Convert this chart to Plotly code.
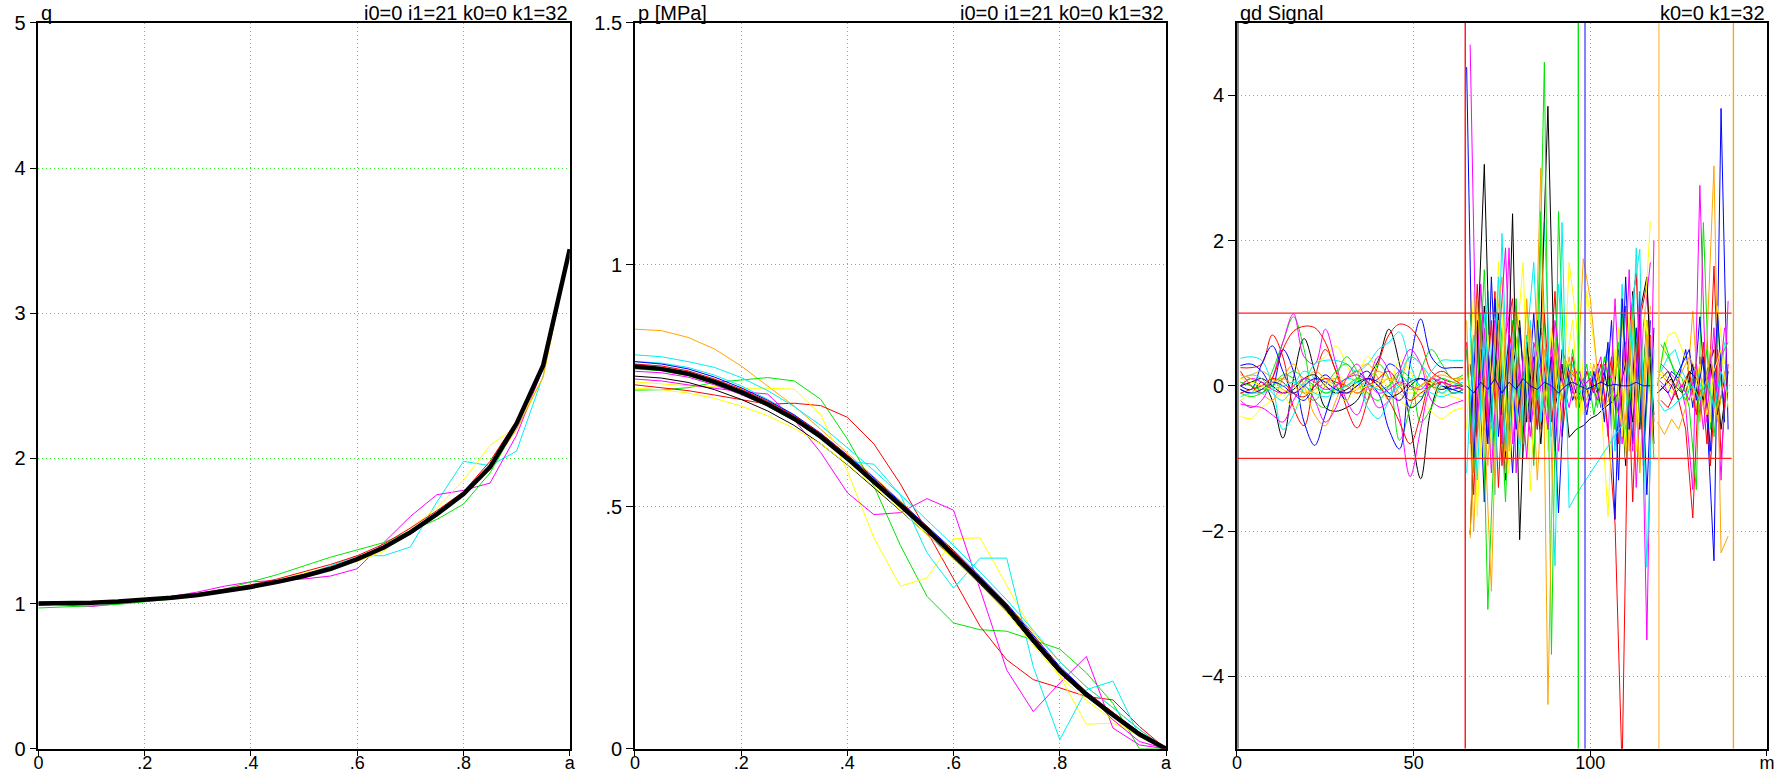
import plotly.graph_objects as go

# ---------------- data ----------------
x_frac = [0, .05, .1, .15, .2, .25, .3, .35, .4, .45, .5, .55, .6, .65, .7, .75, .8, .85, .9, .95, 1.0]
frac_ticks = [0, .2, .4, .6, .8, 1.0]
frac_labels = ["0", ".2", ".4", ".6", ".8", "a"]

q_mean = [1.000, 1.002, 1.006, 1.014, 1.025, 1.040, 1.060, 1.085, 1.115, 1.150, 1.190, 1.240, 1.306, 1.386, 1.490, 1.616, 1.754, 1.940, 2.240, 2.640, 3.440]
q_black = [0.99, 0.995, 1.0, 1.01, 1.02, 1.035, 1.055, 1.08, 1.11, 1.145, 1.185, 1.235, 1.30, 1.38, 1.48, 1.61, 1.75, 1.94, 2.24, 2.64, 3.44]
q_red = [1.01, 1.01, 1.01, 1.02, 1.03, 1.05, 1.07, 1.10, 1.13, 1.17, 1.22, 1.27, 1.33, 1.41, 1.52, 1.64, 1.77, 1.98, 2.26, 2.65, 3.44]
q_green = [0.97, 0.975, 0.985, 0.995, 1.01, 1.03, 1.06, 1.10, 1.15, 1.20, 1.26, 1.32, 1.37, 1.42, 1.50, 1.58, 1.685, 1.90, 2.22, 2.64, 3.44]
q_blue = [1.00, 1.00, 1.01, 1.015, 1.025, 1.04, 1.06, 1.085, 1.115, 1.15, 1.19, 1.24, 1.30, 1.38, 1.48, 1.61, 1.75, 1.94, 2.24, 2.64, 3.44]
q_yellow = [1.00, 1.00, 1.005, 1.01, 1.02, 1.03, 1.05, 1.08, 1.11, 1.16, 1.21, 1.25, 1.29, 1.36, 1.52, 1.66, 1.85, 2.09, 2.22, 2.56, 3.44]
q_magenta = [1.00, 0.99, 0.98, 1.00, 1.02, 1.05, 1.08, 1.12, 1.15, 1.16, 1.17, 1.19, 1.24, 1.42, 1.60, 1.75, 1.78, 1.83, 2.16, 2.62, 3.44]
q_cyan = [1.00, 1.005, 1.01, 1.015, 1.03, 1.04, 1.06, 1.09, 1.12, 1.16, 1.20, 1.26, 1.33, 1.33, 1.39, 1.70, 1.98, 1.95, 2.05, 2.57, 3.44]
q_orange = [1.01, 1.01, 1.015, 1.02, 1.03, 1.045, 1.065, 1.09, 1.12, 1.155, 1.20, 1.25, 1.31, 1.39, 1.50, 1.62, 1.76, 1.93, 2.20, 2.56, 3.44]

p_mean = [0.790, 0.785, 0.775, 0.758, 0.737, 0.712, 0.682, 0.645, 0.600, 0.553, 0.503, 0.453, 0.402, 0.348, 0.292, 0.225, 0.162, 0.112, 0.070, 0.030, 0.0]
p_orange = [0.867, 0.864, 0.850, 0.826, 0.791, 0.750, 0.708, 0.660, 0.612, 0.562, 0.512, 0.460, 0.408, 0.355, 0.300, 0.240, 0.180, 0.128, 0.085, 0.040, 0.0]
p_green = [0.741, 0.742, 0.746, 0.757, 0.762, 0.767, 0.760, 0.722, 0.640, 0.543, 0.420, 0.315, 0.260, 0.246, 0.243, 0.225, 0.206, 0.157, 0.094, 0.0, 0.0]
p_red = [0.752, 0.746, 0.740, 0.731, 0.722, 0.712, 0.714, 0.709, 0.685, 0.630, 0.547, 0.450, 0.350, 0.253, 0.184, 0.143, 0.126, 0.108, 0.101, 0.046, 0.0]
p_yellow = [0.758, 0.754, 0.750, 0.748, 0.745, 0.745, 0.743, 0.690, 0.574, 0.436, 0.336, 0.353, 0.434, 0.436, 0.339, 0.240, 0.150, 0.051, 0.053, 0.030, 0.0]
p_magenta = [0.764, 0.760, 0.752, 0.745, 0.738, 0.733, 0.680, 0.612, 0.529, 0.484, 0.488, 0.517, 0.493, 0.329, 0.163, 0.077, 0.136, 0.191, 0.043, 0.008, 0.0]
p_cyan = [0.800, 0.797, 0.788, 0.772, 0.750, 0.722, 0.690, 0.648, 0.594, 0.588, 0.524, 0.405, 0.332, 0.394, 0.394, 0.170, 0.019, 0.122, 0.140, 0.026, 0.0]
p_cyan2 = [0.814, 0.810, 0.800, 0.788, 0.767, 0.740, 0.707, 0.668, 0.622, 0.575, 0.525, 0.473, 0.420, 0.365, 0.308, 0.245, 0.180, 0.128, 0.085, 0.040, 0.0]
p_blue = [0.80, 0.795, 0.785, 0.768, 0.746, 0.72, 0.69, 0.652, 0.607, 0.56, 0.51, 0.46, 0.41, 0.356, 0.30, 0.235, 0.17, 0.118, 0.075, 0.034, 0.0]
p_black = [0.770, 0.766, 0.757, 0.742, 0.722, 0.698, 0.668, 0.630, 0.587, 0.540, 0.492, 0.443, 0.393, 0.340, 0.284, 0.218, 0.156, 0.108, 0.068, 0.030, 0.0]
p_yellow2 = [0.745, 0.742, 0.735, 0.724, 0.708, 0.688, 0.662, 0.630, 0.588, 0.542, 0.493, 0.442, 0.392, 0.338, 0.282, 0.215, 0.150, 0.100, 0.060, 0.025, 0.0]
p_magenta2 = [0.780, 0.777, 0.768, 0.752, 0.732, 0.708, 0.678, 0.642, 0.598, 0.552, 0.503, 0.455, 0.405, 0.352, 0.298, 0.232, 0.168, 0.115, 0.060, 0.015, 0.0]
p_red2 = [0.795, 0.791, 0.781, 0.764, 0.743, 0.718, 0.688, 0.651, 0.606, 0.558, 0.508, 0.458, 0.407, 0.353, 0.297, 0.230, 0.167, 0.117, 0.075, 0.034, 0.0]
p_green2 = [0.785, 0.781, 0.771, 0.754, 0.733, 0.708, 0.678, 0.641, 0.596, 0.549, 0.499, 0.449, 0.398, 0.344, 0.288, 0.222, 0.158, 0.108, 0.066, 0.026, 0.0]

# gd Signal panel
xA = [1, 4, 7, 10, 13, 16, 19, 22, 25, 28, 31, 34, 37, 40, 43, 46, 49, 52, 55, 58, 61, 64]
sigA = [
    ("black",   [-0.05, -0.1, 0.05, -0.2, -0.72, 0.1, 0.65, 0.2, -0.3, -0.35, -0.3, -0.2, 0.1, 0.35, 0.78, 0.3, -0.5, -1.28, -0.3, 0.05, -0.1, -0.05]),
    ("red",     [0.25, 0.25, 0.3, 0.7, 0.4, -0.3, -0.55, 0.1, 0.5, 0.2, -0.3, -0.58, -0.2, 0.3, 0.7, 0.85, 0.8, 0.6, 0.2, 0.1, 0.05, 0.1]),
    ("green",   [0.0, 0.1, -0.1, 0.2, 0.6, 0.95, 0.5, -0.2, -0.3, 0.1, 0.4, 0.2, -0.2, 0.3, 0.1, -0.75, -0.3, 0.2, 0.5, 0.3, 0.1, 0.15]),
    ("blue",    [0.28, 0.3, 0.2, 0.0, 0.5, 0.2, -0.5, -0.82, -0.4, 0.0, 0.1, 0.2, 0.05, -0.1, -0.6, -0.87, 0.3, 0.92, 0.4, 0.25, 0.25, 0.25]),
    ("yellow",  [-0.42, -0.45, -0.3, -0.2, -0.1, 0.0, 0.1, 0.3, 0.4, 0.55, 0.3, 0.0, -0.1, 0.0, -0.1, -0.2, -0.3, -0.2, -0.35, -0.45, -0.35, -0.3]),
    ("magenta", [-0.2, -0.3, -0.2, 0.1, 0.6, 0.99, 0.4, 0.3, 0.78, 0.3, -0.2, -0.4, 0.0, 0.4, 0.2, -0.4, -1.25, -0.6, 0.0, 0.1, -0.1, -0.05]),
    ("cyan",    [0.38, 0.4, 0.35, 0.0, -0.6, -0.4, 0.0, 0.3, 0.35, 0.35, 0.3, 0.2, 0.3, 0.5, 0.6, 0.74, 0.3, 0.0, 0.2, 0.35, 0.35, 0.35]),
    ("orange",  [0.05, 0.0, -0.1, -0.2, 0.1, 0.3, 0.0, -0.4, -0.55, -0.2, 0.1, 0.2, 0.3, 0.1, -0.2, 0.0, 0.4, 0.3, 0.0, -0.1, 0.05, 0.1]),
    ("black",   [0.0, 0.05, 0.1, 0.0, -0.1, -0.05, 0.1, 0.15, 0.0, -0.1, -0.05, 0.05, 0.1, 0.0, -0.15, -0.1, 0.05, 0.1, 0.0, -0.05, 0.0, 0.0]),
    ("red",     [0.2, 0.0, -0.1, 0.1, 0.5, 0.75, 0.82, 0.8, 0.6, 0.2, -0.1, 0.0, 0.1, 0.0, -0.2, -0.5, -0.8, -0.4, 0.1, 0.2, 0.1, 0.0]),
    ("green",   [-0.1, -0.15, -0.1, 0.0, 0.15, 0.1, -0.1, -0.2, 0.0, 0.2, 0.3, 0.1, -0.1, -0.2, 0.0, 0.2, 0.1, -0.5, -0.3, 0.0, -0.1, -0.05]),
    ("blue",    [0.0, -0.05, 0.3, 0.55, 0.2, -0.1, -0.2, 0.0, 0.15, 0.0, -0.2, 0.1, 0.2, 0.0, 0.3, 0.2, -0.3, -0.2, 0.1, 0.0, -0.05, 0.0]),
    ("yellow",  [-0.2, -0.1, 0.0, 0.1, -0.1, -0.3, -0.15, 0.05, 0.1, -0.1, -0.2, 0.1, 0.4, 0.2, 0.0, 0.35, 0.2, -0.1, 0.0, -0.1, -0.15, -0.2]),
    ("magenta", [-0.25, -0.28, -0.3, -0.4, -0.5, -0.2, 0.0, -0.2, -0.5, -0.3, 0.1, 0.3, 0.0, -0.3, -0.2, 0.2, 0.5, 0.3, -0.2, -0.3, -0.25, -0.2]),
    ("cyan",    [0.1, 0.15, 0.1, -0.1, -0.2, 0.0, 0.2, 0.1, -0.1, 0.0, 0.1, 0.05, -0.3, -0.45, -0.2, 0.1, 0.4, 0.3, 0.1, -0.1, 0.0, 0.05]),
    ("orange",  [0.1, 0.15, 0.2, 0.1, -0.05, -0.1, 0.05, 0.2, 0.1, 0.0, -0.1, -0.05, 0.1, 0.2, 0.1, -0.1, -0.2, 0.0, 0.1, 0.05, 0.0, 0.0]),
    ("red",     [-0.1, -0.05, 0.0, 0.1, 0.05, -0.1, -0.15, 0.0, 0.1, 0.05, 0.0, -0.1, 0.0, 0.1, 0.2, 0.0, -0.2, -0.1, 0.0, 0.05, 0.0, -0.05]),
    ("green",   [0.05, 0.0, -0.05, 0.0, 0.1, 0.2, 0.1, 0.0, -0.1, -0.05, 0.0, 0.1, 0.05, -0.05, 0.0, 0.15, 0.0, -0.15, 0.0, 0.1, 0.05, 0.0]),
    ("blue",    [-0.05, -0.1, -0.05, 0.05, 0.0, -0.1, 0.0, 0.1, 0.05, -0.05, -0.1, 0.0, 0.1, 0.05, -0.1, -0.2, 0.0, 0.1, 0.05, 0.0, -0.05, -0.1]),
    ("yellow",  [0.1, 0.05, 0.0, -0.05, 0.0, 0.05, -0.05, -0.1, 0.0, 0.15, 0.05, -0.05, 0.0, 0.05, 0.1, 0.0, -0.1, 0.0, 0.05, 0.0, 0.05, 0.1]),
    ("magenta", [0.0, 0.1, 0.05, -0.05, -0.1, 0.0, 0.1, 0.05, -0.05, 0.0, 0.1, 0.15, 0.05, -0.1, -0.05, 0.05, 0.0, -0.05, 0.1, 0.05, 0.0, -0.05]),
    ("cyan",    [-0.15, -0.1, -0.1, -0.05, 0.0, 0.05, 0.0, -0.1, -0.15, -0.1, 0.0, 0.05, 0.0, -0.05, -0.1, 0.0, 0.1, 0.0, -0.1, -0.15, -0.1, -0.1]),
    ("orange",  [0.15, 0.1, 0.0, 0.05, 0.1, 0.0, -0.1, -0.05, 0.05, 0.1, 0.0, -0.1, -0.05, 0.0, 0.1, 0.05, -0.05, 0.0, 0.1, 0.15, 0.1, 0.1]),
]

xB1 = [65, 67, 69, 71, 73, 75, 77, 79, 81, 83, 85, 87, 89, 91, 93, 95, 97, 99, 101, 103, 105, 107, 109, 111, 113, 115, 117]
xB2 = [66, 68, 70, 72, 74, 76, 78, 80, 82, 84, 86, 88, 90, 92, 94, 96, 98, 100, 102, 104, 106, 108, 110, 112, 114, 116, 118]
sigB = [
    ("black",   2, [0.3, -0.7, 1.1, -0.4, 0.6, -1.3, 0.2, 0.9, -0.5, 0.4, -0.8, 0.6, -0.3, 0.2, 0.1, -0.2, 0.0, 0.1, -0.1, 0.2, -0.4, 0.5, -1.1, 1.3, -0.6, 0.9, -0.4]),
    ("red",     2, [-0.8, 1.4, -0.6, 0.9, -1.4, 0.7, 1.2, -0.5, 0.4, -1.0, 0.8, -0.3, 1.3, -0.7, 0.2, 0.1, -0.1, 0.0, 0.2, -0.3, 0.4, -0.8, 1.1, -1.6, 0.9, 1.4, -0.5]),
    ("green",   2, [1.0, -0.5, 1.6, -0.9, 0.4, -1.6, 0.9, -0.3, 0.7, -1.1, 2.4, -0.6, 0.5, -0.2, 0.3, 0.1, -0.2, 0.2, -0.3, 0.4, -0.2, 0.6, -0.9, 1.1, -0.5, 0.8, -1.0]),
    ("blue",    2, [-0.5, 0.9, -1.6, 1.5, -0.7, 0.4, -1.2, 0.8, -0.4, 1.0, -0.6, 0.3, -0.9, 0.5, 0.2, -0.1, 0.1, -0.2, 0.3, -0.5, 0.9, -1.3, 1.5, -0.8, 1.2, -1.5, 0.8]),
    ("yellow",  2, [1.5, -1.8, 0.6, -0.9, 1.7, -0.6, 0.3, -1.0, 1.1, -0.4, 0.7, -0.9, 0.4, -0.6, 1.7, 0.9, -0.4, 0.3, -0.2, 0.1, -0.4, 0.8, -1.0, 0.6, -1.2, 0.9, -0.6]),
    ("magenta", 1, [0.5, -1.0, 1.4, -0.5, 0.9, -0.8, 1.9, -1.2, 0.4, -0.7, 0.3, -0.4, 0.6, -0.9, 0.2, -0.1, 0.2, -0.3, 0.1, 0.4, -0.7, 1.2, -0.8, 1.6, -1.4, 0.8, 1.7]),
    ("cyan",    1, [-1.2, 0.7, -0.4, 1.3, -1.5, 2.1, -0.8, 0.5, -1.0, 0.9, -0.6, 2.25, -0.4, 1.4, -0.2, 0.3, -0.1, 0.2, 0.1, -0.2, 0.5, -0.9, 1.4, -0.6, 1.9, -1.1, 0.5]),
    ("orange",  1, [0.9, -2.0, 0.4, -1.1, 0.7, 1.5, -0.9, 0.3, -0.5, 0.8, -1.3, 0.5, -0.7, 0.3, -0.1, 0.2, 0.0, -0.2, 0.3, -0.1, 0.4, -0.6, 1.0, -0.9, 0.6, -0.4, 1.1]),
    ("black",   2, [-2.05, 0.5, 3.05, -0.5, 1.0, -1.0, 2.37, -2.12, 0.6, -0.3, 0.8, 3.85, -0.2, 0.3, -0.71, -0.6, -0.55, -0.45, -0.4, -0.3, -0.23, -0.1, 0.3, -0.5, 1.0, 1.5, -0.8]),
    ("red",     1, [0.6, -1.5, 0.9, -0.7, 1.3, -1.1, 0.5, 1.1, -0.9, 0.4, -0.6, 1.0, -0.5, 0.3, -0.2, 0.4, -0.3, 0.2, -0.1, 0.3, -0.6, -1.9, -5.3, 0.8, 1.55, -1.0, 0.7]),
    ("green",   1, [0.5, -1.2, 1.0, -3.08, -0.5, 0.8, -0.6, 1.2, -0.8, 0.4, -0.2, 4.46, -3.7, 2.4, -0.3, 0.5, -0.2, 0.3, -0.4, 0.2, 0.5, -0.6, 1.0, -0.3, 0.6, -0.8, 0.4]),
    ("blue",    1, [4.39, -1.0, 0.5, -0.8, 1.2, -0.4, 0.7, -0.6, 0.2, -0.5, 0.9, -0.3, 0.4, -1.75, 0.3, -0.2, 0.1, -0.4, 0.2, -0.3, 0.6, -1.84, 1.2, -0.6, 0.8, -1.0, 0.9]),
    ("yellow",  1, [-0.6, 1.3, -1.0, 0.7, -0.4, 1.0, -1.2, 0.5, 1.7, -1.45, 0.6, -0.5, 0.8, -0.3, 0.2, 0.9, -0.5, 1.3, 0.6, -0.2, -1.8, 0.5, -0.7, 1.0, -0.9, 0.6, 2.27]),
    ("magenta", 2, [4.7, -0.5, 0.8, -1.2, 0.5, 1.9, -0.8, 0.3, -1.0, 0.6, 0.2, -0.6, 0.9, 0.1, -0.3, 0.2, 0.0, 0.1, -0.2, 0.3, 0.1, -0.4, 0.6, -0.9, 1.3, -3.5, 2.0]),
    ("cyan",    2, [0.8, -1.3, 1.0, -0.6, 1.5, -0.9, 0.4, -1.0, 0.6, 1.7, -0.5, 0.6, -2.48, 2.25, -1.68, -1.5, -1.35, -1.2, -1.05, -0.9, -0.75, -0.6, -0.46, 1.2, 1.88, -2.5, 0.5]),
    ("orange",  2, [-2.1, 1.2, -0.5, -2.83, 0.9, -1.2, 0.5, -0.8, 1.2, -0.4, 3.0, -4.39, 0.6, -0.2, 0.4, -0.3, 1.75, 1.2, 0.2, -0.3, -0.1, 0.4, -0.6, 0.9, -1.2, 0.7, -0.9]),
    ("blue",    1, [0.0, -0.1, 0.05, -0.05, 0.1, -0.1, 0.05, -0.05, 0.1, 0.0, -0.05, 0.05, 0.0, -0.1, 0.0, 0.05, 0.0, -0.05, 0.0, 0.05, 0.0, 0.02, 0.0, 0.0, 0.05, 0.0, 0.0]),
]

xC1 = [119, 121, 123, 125, 127, 129, 131, 133, 135, 137, 139]
xC2 = [120, 122, 124, 126, 128, 130, 132, 134, 136, 138]
sigC = [
    ("black",   1, [-0.1, 0.0, 0.1, -0.2, -0.1, 0.3, -0.4, 0.2, 0.5, -0.6, 0.2]),
    ("red",     1, [0.2, 0.1, 0.0, -0.2, -0.6, -1.82, 0.4, -0.8, 1.65, -1.0, 0.3]),
    ("green",   2, [0.57, 0.4, 0.2, 0.1, -0.3, -1.43, 2.25, -0.6, 0.9, -0.5]),
    ("blue",    1, [-0.1, 0.0, 0.2, 0.1, 0.5, -0.3, 0.95, -0.4, -2.41, 3.82, -0.6]),
    ("yellow",  2, [0.3, 0.7, 0.74, 0.5, 0.2, -0.3, 0.6, -0.5, 1.1, 0.3]),
    ("magenta", 1, [0.1, 0.0, -0.2, 0.1, -0.3, -1.43, 2.76, -0.5, 0.8, -1.3, 1.17]),
    ("cyan",    2, [0.2, 0.4, 0.5, 0.2, 0.0, 0.3, -0.2, 0.4, -0.3, 0.6]),
    ("orange",  1, [-0.5, -0.67, -0.46, -0.6, -0.3, 1.03, -0.5, 0.6, 3.03, -2.3, -2.07]),
    ("black",   2, [0.1, 0.2, 0.0, -0.1, 0.2, 0.1, -0.2, 0.3, -0.4, 0.1]),
    ("red",     2, [-0.2, -0.3, -0.1, 0.0, 0.2, -0.4, 0.6, -1.1, 0.5, -0.3]),
    ("green",   1, [0.0, 0.6, 0.3, 0.0, -0.2, 0.1, -0.3, 0.5, -0.7, 0.4, 0.6]),
    ("blue",    2, [0.0, -0.1, 0.1, 0.3, 0.5, -0.2, 0.4, -0.9, 1.0, -0.5]),
    ("yellow",  1, [0.2, 0.1, -0.1, 0.0, 0.1, -0.2, 0.3, -0.4, 0.2, 0.5, -0.3]),
    ("magenta", 2, [0.3, 0.2, 0.1, 0.0, -0.2, 0.3, -0.6, 0.4, -0.2, 0.8]),
    ("cyan",    1, [-0.2, -0.35, -0.3, -0.2, -0.1, 0.0, -0.2, 0.1, -0.3, 0.2, -0.1]),
    ("orange",  2, [0.2, 0.1, 0.0, 0.2, 0.4, 0.2, -0.3, 0.5, -0.5, 0.2]),
]

limit_levels = [1, -1]
limit_x = [0, 140]
marker_x = [64.6, 96.6, 98.5, 119.4, 140.5]
marker_colors = ["#ff0000", "#00e000", "#4040ff", "#ffc060", "#ffa500"]
sig_ticks = [0, 50, 100, 150]
sig_labels = ["0", "50", "100", "m"]

COL = {"black": "#000000", "red": "#ff0000", "green": "#00e600", "blue": "#0000ff",
       "yellow": "#ffff00", "magenta": "#ff00ff", "cyan": "#00eeee", "orange": "#ffa500"}

FONT = "Liberation Sans, Arial, sans-serif"
FS = 20
FSX = 18
GRID = "#33ee33"

fig = go.Figure()

def add(x, y, color, ax, width=1, shape="linear"):
    fig.add_trace(go.Scatter(x=x, y=y, mode="lines", xaxis="x" + ax, yaxis="y" + ax,
                             line=dict(color=color, width=width, shape=shape),
                             hoverinfo="skip", showlegend=False))

# panel 1
for col, ser in [("cyan", q_cyan), ("magenta", q_magenta), ("yellow", q_yellow), ("green", q_green),
                 ("red", q_red), ("blue", q_blue), ("orange", q_orange), ("black", q_black)]:
    add(x_frac, ser, COL[col], "")
add(x_frac, q_mean, "#000000", "", width=4.5)

# panel 2
for col, ser in [("orange", p_orange), ("green", p_green), ("red", p_red), ("yellow", p_yellow),
                 ("magenta", p_magenta), ("cyan", p_cyan), ("cyan", p_cyan2), ("blue", p_blue),
                 ("black", p_black), ("yellow", p_yellow2), ("magenta", p_magenta2),
                 ("red", p_red2), ("green", p_green2)]:
    add(x_frac, ser, COL[col], "2")
add(x_frac, p_mean, "#000000", "2", width=4.5)

# panel 3
add([0, 0], [-5, 5], "#888888", "3", width=4)
for col, ser in sigA:
    add(xA, ser, COL[col], "3", shape="spline")
for col, g, ser in sigB:
    add(xB1 if g == 1 else xB2, ser, COL[col], "3")
for col, g, ser in sigC:
    add(xC1 if g == 1 else xC2, ser, COL[col], "3")
for lv in limit_levels:
    add(limit_x, [lv, lv], "#ff2020", "3", width=1.3)
for mx, mc in zip(marker_x, marker_colors):
    add([mx, mx], [-5, 5], mc, "3", width=1.3)

dom_y = [0.0375, 0.9707]
base = dict(showline=True, linecolor="#000000", linewidth=1.5, mirror=True,
            ticks="outside", tickcolor="#000000", tickwidth=1.2,
            showgrid=True, gridcolor=GRID, griddash="1px,3px", gridwidth=1.2,
            zeroline=False, automargin=False)
xaxis_common = dict(base, ticklen=5, ticklabelstandoff=-8,
                    tickfont=dict(family=FONT, size=FSX, color="#000000"))
yaxis_common = dict(base, ticklen=7, tickfont=dict(family=FONT, size=FS, color="#000000"))

fig.update_layout(
    width=1787, height=778, margin=dict(l=0, r=0, t=0, b=0, autoexpand=False),
    paper_bgcolor="white", plot_bgcolor="white", showlegend=False,
    xaxis=dict(domain=[0.0215, 0.3188], range=[0, 1], tickvals=frac_ticks, ticktext=frac_labels, anchor="y", **xaxis_common),
    yaxis=dict(domain=dom_y, range=[0, 5], tickvals=[0, 1, 2, 3, 4, 5], anchor="x", **yaxis_common),
    xaxis2=dict(domain=[0.3553, 0.6525], range=[0, 1], tickvals=frac_ticks, ticktext=frac_labels, anchor="y2", **xaxis_common),
    yaxis2=dict(domain=dom_y, range=[0, 1.5], tickvals=[0, 0.5, 1, 1.5], ticktext=["0", ".5", "1", "1.5"], anchor="x2", **yaxis_common),
    xaxis3=dict(domain=[0.6922, 0.9888], range=[0, 150], tickvals=sig_ticks, ticktext=sig_labels, anchor="y3", **xaxis_common),
    yaxis3=dict(domain=dom_y, range=[-5, 5], tickvals=[-4, -2, 0, 2, 4], anchor="x3", **yaxis_common),
)

titles = [("x domain", "y domain", "q", "i0=0 i1=21 k0=0 k1=32"),
          ("x2 domain", "y2 domain", "p [MPa]", "i0=0 i1=21 k0=0 k1=32"),
          ("x3 domain", "y3 domain", "gd Signal", "k0=0 k1=32")]
for xr, yr, left, right in titles:
    fig.add_annotation(xref=xr, yref=yr, x=0, y=1, xanchor="left", yanchor="bottom", text=left,
                       showarrow=False, xshift=1, yshift=-3, font=dict(family=FONT, size=FS, color="#000000"))
    fig.add_annotation(xref=xr, yref=yr, x=1, y=1, xanchor="right", yanchor="bottom", text=right,
                       showarrow=False, yshift=-3, font=dict(family=FONT, size=FS, color="#000000"))

fig.write_html("out.html")
